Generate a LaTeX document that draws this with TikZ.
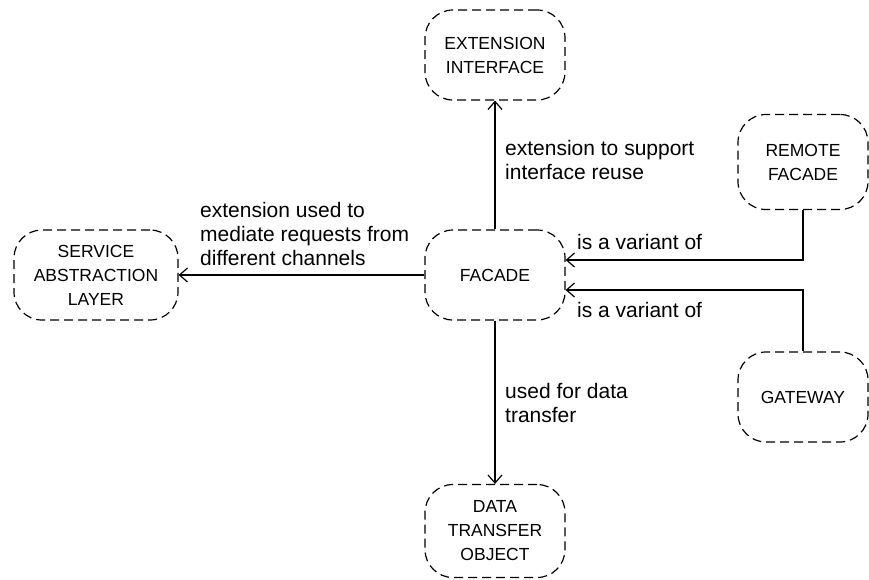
\documentclass[tikz,border=0pt]{standalone}
\usepackage{fontspec}
\setmainfont{Liberation Sans}
\usetikzlibrary{arrows.meta}
\begin{document}
\begin{tikzpicture}[x=1pt,y=-1pt,
  box/.style={draw, dash pattern=on 9pt off 5pt, line width=1.2pt, rounded corners=28pt,
    minimum width=140pt, minimum height=90pt, align=center, inner sep=0pt,
    font=\fontsize{17.5}{24}\selectfont},
  lbl/.style={anchor=west, align=left, inner sep=0pt, font=\fontsize{21}{24}\selectfont},
  arr/.style={line width=1.2pt, -{Straight Barb[length=8pt,width=14pt,line width=1.2pt]}}]
\useasboundingbox (0,0) rectangle (869,579);
\node[box] (ext) at (495,55) {EXTENSION\\INTERFACE};
\node[box] (fac) at (495,275) {FACADE};
\node[box, minimum width=164pt] (sal) at (96,275) {SERVICE\\ABSTRACTION\\LAYER};
\node[box, minimum width=130pt, minimum height=95pt] (rem) at (803,162) {REMOTE\\FACADE};
\node[box, minimum width=130pt] (gw) at (803,397) {GATEWAY};
\node[box, minimum height=93pt] (dto) at (495,531) {DATA\\TRANSFER\\OBJECT};
\draw[arr] (fac.north) -- (ext.south);
\draw[arr] (fac.west) -- (sal.east);
\draw[arr] (fac.south) -- (dto.north);
\draw[arr] (rem.south) |- ([yshift=15pt]fac.east);
\draw[arr] (gw.north) |- ([yshift=-15pt]fac.east);
\node[lbl] (l1) at (505,160) {extension to support\\interface reuse};
\node[lbl] (l2) at (200,234) {extension used to\\mediate requests from\\different channels};
\node[lbl] (l3) at (577,242) {is a variant of};
\node[lbl] (l4) at (577,310) {is a variant of};
\node[lbl] (l5) at (505,403) {used for data\\transfer};
\end{tikzpicture}
\end{document}
